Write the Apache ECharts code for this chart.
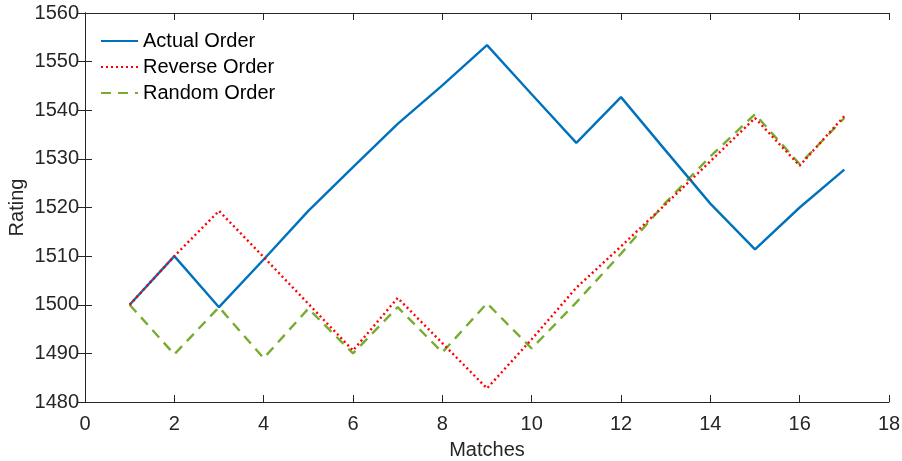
<!DOCTYPE html>
<html><head><meta charset="utf-8">
<script src="https://cdn.jsdelivr.net/npm/echarts@6/dist/echarts.min.js"></script>
<style>html,body{margin:0;padding:0;background:#fff}#c{width:902px;height:461px}</style>
</head><body><div id="c"></div>
<script>
const matches = [1,2,3,4,5,6,7,8,9,10,11,12,13,14,15,16,17];
const actualOrder = [1500,1510,1499.5,1509.3,1519.3,1528.3,1537.2,1545.1,1553.4,1543.3,1533.3,1542.7,1531.7,1520.8,1511.4,1520,1527.8];
const reverseOrder = [1500,1510,1519.3,1509.8,1500.2,1490.6,1501.4,1492.1,1482.8,1492.9,1503.5,1512,1520.7,1529.5,1538.4,1528.6,1538.8];
const randomOrder = [1500,1489.8,1499.5,1489,1499.2,1490,1499.5,1490.2,1500.3,1491,1500.5,1510.5,1521,1530.5,1539.2,1528.9,1538.4];
const seriesNames = ['Actual Order','Reverse Order','Random Order'];

const chart = echarts.init(document.getElementById('c'), null, {renderer:'canvas'});
const font = 'Liberation Sans, Arial, Helvetica, sans-serif';
const axLine = {show:true, lineStyle:{color:'#262626', width:1}};
const tick = {inside:true, length:7, lineStyle:{color:'#262626'}};
const pair = arr => matches.map((m,i)=>[m,arr[i]]);
chart.setOption({
  animation:false,
  backgroundColor:'#fff',
  grid:{left:85, right:13, top:13, bottom:59, containLabel:false, outerBoundsMode:'none'},
  legend:{
    left:95, top:26, orient:'vertical', itemGap:6, itemWidth:37, itemHeight:14,
    textStyle:{fontFamily:font, fontSize:20, color:'#000'},
    itemStyle:{opacity:0},
    data:seriesNames
  },
  xAxis:[{
    type:'value', min:0, max:18, interval:2, position:'bottom',
    name:'Matches', nameLocation:'middle', nameGap:38,
    nameTextStyle:{fontFamily:font, fontSize:20, color:'#262626'},
    axisLine:axLine, axisTick:tick,
    axisLabel:{fontFamily:font, fontSize:20, color:'#262626', margin:12},
    splitLine:{show:false}
  },{
    type:'value', min:0, max:18, interval:2, position:'top',
    axisLine:axLine, axisTick:tick,
    axisLabel:{show:false}, splitLine:{show:false}
  }],
  yAxis:[{
    type:'value', min:1480, max:1560, interval:10, position:'left',
    name:'Rating', nameLocation:'middle', nameGap:58, nameRotate:90, nameMoveOverlap:false,
    nameTextStyle:{fontFamily:font, fontSize:20, color:'#262626'},
    axisLine:axLine, axisTick:tick,
    axisLabel:{fontFamily:font, fontSize:20, color:'#262626', margin:6, formatter:v=>String(v)},
    splitLine:{show:false}
  },{
    type:'value', min:1480, max:1560, interval:10, position:'right',
    axisLine:axLine, axisTick:tick,
    axisLabel:{show:false}, splitLine:{show:false}
  }],
  series:[
    {name:seriesNames[0], type:'line', data:pair(actualOrder), showSymbol:false, symbol:'none',
     lineStyle:{color:'#0072BD', width:2.4, type:'solid'}, itemStyle:{color:'#0072BD'}, z:3},
    {name:seriesNames[1], type:'line', data:pair(reverseOrder), showSymbol:false, symbol:'none',
     lineStyle:{color:'#FF0000', width:2.4, type:[2,3]}, itemStyle:{color:'#FF0000'}, z:4},
    {name:seriesNames[2], type:'line', data:pair(randomOrder), showSymbol:false, symbol:'none',
     lineStyle:{color:'#77AC30', width:2.4, type:[10,7]}, itemStyle:{color:'#77AC30'}, z:2}
  ]
});
</script></body></html>
